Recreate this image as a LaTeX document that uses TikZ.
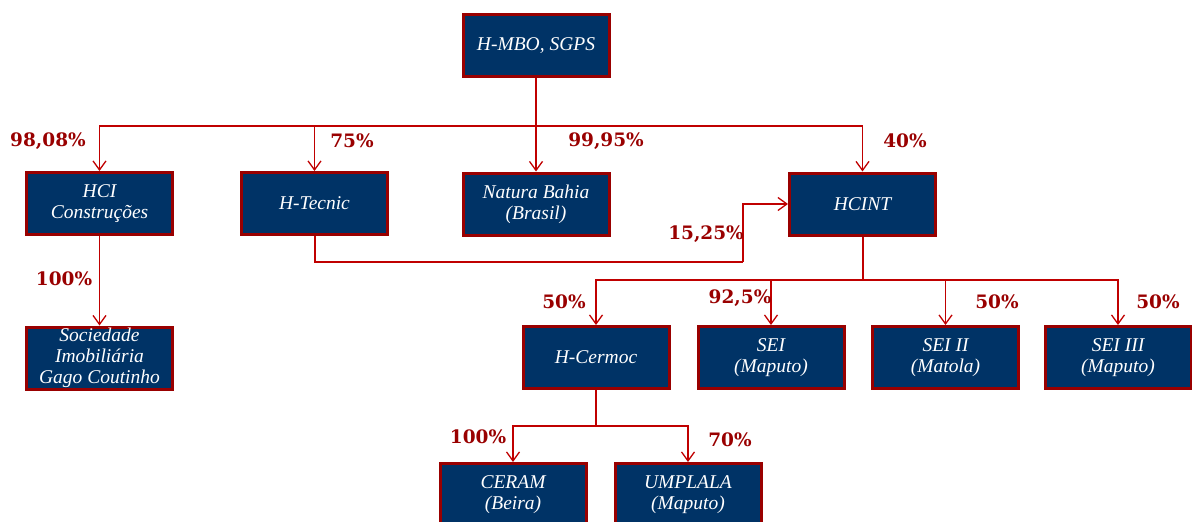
\documentclass[tikz,border=0pt]{standalone}
\usepackage{fontspec}
\setmainfont{Liberation Serif}
\newfontfamily\lblfont{DejaVu Serif}
\usetikzlibrary{arrows.meta}
\definecolor{boxblue}{RGB}{0,51,102}
\definecolor{boxred}{RGB}{153,0,0}
\definecolor{linered}{RGB}{192,0,0}
\definecolor{lblred}{RGB}{153,0,0}
\tikzset{
  orgbox/.style={draw=boxred, fill=boxblue, line width=3pt, minimum width=146pt, minimum height=62pt,
    inner sep=0pt, text=white, align=center, font=\fontsize{19.5}{21}\selectfont\itshape},
  conn/.style={draw=linered, line width=1.2pt},
  thickconn/.style={draw=linered, line width=2pt},
  arr/.style={conn, -{Straight Barb[length=9pt,width=13pt,line width=1.3pt]}},
  lbl/.style={text=lblred, font=\lblfont\bfseries\fontsize{18.5}{20}\selectfont, inner sep=0pt}
}
\begin{document}
\begin{tikzpicture}[x=1pt,y=-1pt]
\useasboundingbox (0,0) rectangle (1192,522);
% boxes
\node[orgbox] (top) at (536,45.5) {H-MBO, SGPS};
\node[orgbox] (hci) at (99.5,203.5) {HCI\\Construções};
\node[orgbox] (htec) at (314.5,203.5) {H-Tecnic};
\node[orgbox] (nat) at (536,204) {Natura Bahia\\(Brasil)};
\node[orgbox] (hcint) at (862.5,204) {HCINT};
\node[orgbox] (soc) at (99.5,358) {Sociedade\\Imobiliária\\Gago Coutinho};
\node[orgbox] (herm) at (596,357.5) {H-Cermoc};
\node[orgbox] (sei) at (771,357.5) {SEI\\(Maputo)};
\node[orgbox] (seii) at (945.5,357.5) {SEI II\\(Matola)};
\node[orgbox] (seiii) at (1118,357.5) {SEI III\\(Maputo)};
\node[orgbox] (ceram) at (513,494.5) {CERAM\\(Beira)};
\node[orgbox] (umpl) at (688,494.5) {UMPLALA\\(Maputo)};
% junction coordinates
\coordinate (j1) at (536,126);
\coordinate (j2) at (862.5,280);
\coordinate (j3) at (596,426);
\coordinate (t1) at (314.5,262);
\coordinate (t2) at (743,262);
% connectors from top
\draw[conn] (top.south) -- (j1);
\draw[arr] (j1) -| (hci.north);
\draw[arr] (j1) -| (htec.north);
\draw[arr] (j1) -- (nat.north);
\draw[arr] (j1) -| (hcint.north);
% HCI -> Sociedade
\draw[arr] (hci.south) -- (soc.north);
% H-Tecnic -> HCINT
\draw[thickconn] (htec.south) -- (t1) -- (t2);
\draw[arr] (t2) |- (hcint.west);
% HCINT -> children
\draw[thickconn] (hcint.south) -- (j2);
\draw[arr] (j2) -| (herm.north);
\draw[arr] (j2) -| (sei.north);
\draw[arr] (j2) -| (seii.north);
\draw[arr] (j2) -| (seiii.north);
% H-Cermoc -> children
\draw[conn] (herm.south) -- (j3);
\draw[arr] (j3) -| (ceram.north);
\draw[arr] (j3) -| (umpl.north);
% labels
\node[lbl] (l1) at (48,141) {98,08\%};
\node[lbl] (l2) at (352,141) {75\%};
\node[lbl] (l3) at (606,141) {99,95\%};
\node[lbl] (l4) at (905,141) {40\%};
\node[lbl] (l5) at (706,234) {15,25\%};
\node[lbl] (l6) at (64,279) {100\%};
\node[lbl] (l7) at (564,302) {50\%};
\node[lbl] (l8) at (740,298) {92,5\%};
\node[lbl] (l9) at (997,302) {50\%};
\node[lbl] (l10) at (1158,302) {50\%};
\node[lbl] (l11) at (478,437) {100\%};
\node[lbl] (l12) at (730,440) {70\%};
\end{tikzpicture}
\end{document}
